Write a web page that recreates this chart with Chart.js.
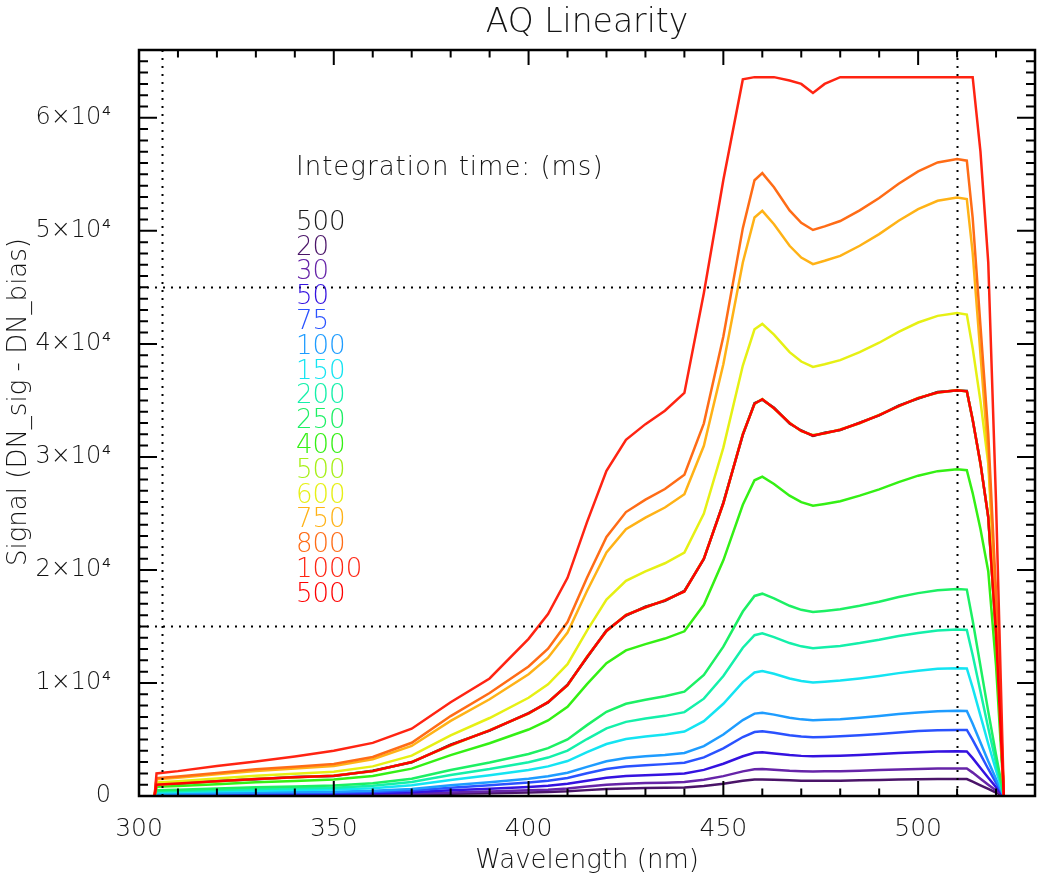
<!DOCTYPE html>
<html>
<head>
<meta charset="utf-8">
<title>AQ Linearity</title>
<script src="https://cdn.jsdelivr.net/npm/chart.js@4.4.1/dist/chart.umd.min.js"></script>
<style>
  html, body { margin: 0; padding: 0; background: #fff; }
  #wrap { width: 1039px; height: 881px; }
</style>
</head>
<body>
<div id="wrap"><canvas id="aq-chart" width="1039" height="881"></canvas></div>
<script>
// wavelength samples (nm), shared by every integration time
const wavelengths = [304, 304.5, 310, 320, 330, 340, 350, 360, 370, 380, 390, 400, 405, 410, 415, 420, 425, 430, 435, 440,
  445, 450, 455, 458, 460, 463, 467, 470, 473, 476, 480, 485, 490, 495, 500, 505, 510, 512.5, 514, 516, 518, 520, 522];

// signal (DN_sig - DN_bias) per integration time
const sig500a = [0, 1050, 1080, 1320, 1480, 1680, 1780, 2230, 2980, 4540, 5780, 7340, 8280, 9850, 12260, 14650, 15970, 16740, 17260, 18140,
  20960, 25950, 31950, 34750, 35060, 34350, 32960, 32340, 31860, 32140, 32370, 33040, 33670, 34540, 35170, 35740, 35870, 35830, 33260, 29450, 24660, 14350, 0];
const sig20 = [0, 40, 50, 60, 60, 70, 80, 90, 130, 190, 240, 310, 350, 410, 520, 610, 670, 700, 730, 760,
  880, 1090, 1340, 1460, 1470, 1440, 1390, 1360, 1340, 1350, 1360, 1390, 1420, 1450, 1480, 1500, 1510, 1500, 1280, 950, 620, 300, 0];
const sig30 = [0, 70, 80, 90, 100, 110, 120, 150, 200, 310, 390, 500, 560, 670, 840, 990, 1090, 1140, 1180, 1230,
  1430, 1760, 2180, 2360, 2390, 2330, 2240, 2200, 2170, 2180, 2200, 2240, 2290, 2350, 2390, 2430, 2440, 2430, 2070, 1530, 1000, 490, 0];
const sig50 = [0, 110, 120, 140, 170, 180, 200, 240, 330, 500, 640, 800, 910, 1080, 1350, 1610, 1760, 1840, 1900, 1990,
  2310, 2850, 3520, 3820, 3860, 3770, 3630, 3550, 3510, 3530, 3560, 3630, 3710, 3800, 3870, 3930, 3950, 3940, 3350, 2480, 1620, 790, 0];
const sig75 = [0, 160, 180, 210, 250, 270, 290, 360, 490, 730, 950, 1190, 1350, 1600, 2010, 2380, 2610, 2720, 2820, 2950,
  3420, 4220, 5220, 5660, 5720, 5590, 5380, 5270, 5200, 5230, 5280, 5380, 5490, 5620, 5740, 5820, 5850, 5840, 4960, 3680, 2390, 1170, 0];
const sig100 = [0, 210, 230, 270, 320, 350, 380, 460, 630, 950, 1220, 1530, 1740, 2060, 2580, 3070, 3360, 3510, 3630, 3800,
  4410, 5440, 6720, 7290, 7370, 7200, 6930, 6780, 6700, 6740, 6800, 6930, 7080, 7250, 7390, 7500, 7540, 7520, 6390, 4740, 3080, 1500, 0];
const sig150 = [0, 320, 350, 410, 470, 520, 570, 690, 950, 1420, 1830, 2300, 2620, 3090, 3880, 4600, 5040, 5260, 5450, 5700,
  6620, 8160, 10080, 10930, 11060, 10810, 10400, 10180, 10050, 10110, 10210, 10400, 10620, 10870, 11090, 11250, 11310, 11280, 9590, 7110, 4620, 2260, 0];
const sig200 = [0, 410, 450, 530, 620, 680, 740, 900, 1230, 1850, 2380, 2990, 3400, 4020, 5040, 5990, 6560, 6850, 7090, 7420,
  8610, 10620, 13120, 14230, 14390, 14060, 13530, 13240, 13080, 13160, 13280, 13530, 13820, 14150, 14430, 14640, 14720, 14680, 12480, 9250, 6020, 2940, 0];
const sig250 = [0, 510, 560, 660, 770, 840, 920, 1120, 1530, 2300, 2960, 3720, 4230, 5000, 6270, 7450, 8160, 8520, 8820, 9230,
  10710, 13210, 16320, 17700, 17900, 17490, 16830, 16470, 16270, 16370, 16520, 16830, 17190, 17600, 17950, 18210, 18310, 18260, 15520, 11500, 7490, 3650, 0];
const sig400 = [0, 810, 890, 1050, 1210, 1330, 1450, 1770, 2420, 3620, 4670, 5880, 6680, 7890, 9900, 11750, 12880, 13440, 13930, 14570,
  16910, 20850, 25760, 27930, 28260, 27610, 26570, 26000, 25680, 25840, 26080, 26570, 27130, 27770, 28340, 28740, 28900, 28820, 26800, 23630, 19890, 11530, 0];
const sig500b = [0, 980, 1120, 1290, 1520, 1630, 1820, 2180, 3020, 4470, 5820, 7280, 8320, 9780, 12330, 14580, 16030, 16680, 17330, 18080,
  21030, 25870, 32030, 34680, 35120, 34280, 33030, 32280, 31930, 32080, 32420, 32980, 33720, 34480, 35220, 35680, 35920, 35780, 33320, 29380, 24720, 14280, 0];
const sig600 = [0, 1190, 1310, 1550, 1790, 1960, 2140, 2620, 3570, 5360, 6900, 8690, 9880, 11660, 14640, 17370, 19040, 19870, 20590, 21540,
  24990, 30820, 38080, 41290, 41770, 40820, 39270, 38440, 37960, 38200, 38560, 39270, 40100, 41060, 41890, 42480, 42720, 42600, 39620, 34930, 29400, 17040, 0];
const sig750 = [0, 1480, 1620, 1920, 2210, 2430, 2660, 3250, 4430, 6640, 8560, 10770, 12240, 14460, 18140, 21540, 23600, 24630, 25520, 26700,
  30980, 38200, 47200, 51180, 51770, 50590, 48680, 47640, 47050, 47350, 47790, 48680, 49710, 50890, 51920, 52660, 52950, 52810, 48050, 39080, 30100, 16900, 0];
const sig800 = [0, 1570, 1730, 2040, 2360, 2590, 2830, 3450, 4710, 7070, 9110, 11460, 13030, 15390, 19310, 22920, 25120, 26220, 27160, 28420,
  32970, 40660, 50240, 54480, 55110, 53850, 51810, 50710, 50080, 50400, 50870, 51810, 52910, 54170, 55260, 56050, 56360, 56210, 51150, 41590, 32040, 17990, 0];
const sig1000 = [0, 2000, 2200, 2650, 3050, 3500, 4000, 4700, 5950, 8300, 10400, 13900, 16100, 19300, 24230, 28760, 31520, 32900, 34080, 35660,
  44500, 54500, 63400, 63600, 63600, 63600, 63300, 63000, 62200, 63000, 63600, 63600, 63600, 63600, 63600, 63600, 63600, 63600, 63600, 57000, 47200, 26000, 0];
const sig500c = [0, 1000, 1100, 1300, 1500, 1650, 1800, 2200, 3000, 4500, 5800, 7300, 8300, 9800, 12300, 14600, 16000, 16700, 17300, 18100,
  21000, 25900, 32000, 34700, 35100, 34300, 33000, 32300, 31900, 32100, 32400, 33000, 33700, 34500, 35200, 35700, 35900, 35800, 33300, 29400, 24700, 14300, 0];

// plotted in this order, the last one ends up on top
const seriesValues = [sig500a, sig20, sig30, sig50, sig75, sig100, sig150, sig200, sig250, sig400, sig500b, sig600, sig750, sig800, sig1000, sig500c];
const seriesLabels = ['500', '20', '30', '50', '75', '100', '150', '200', '250', '400', '500', '600', '750', '800', '1000', '500'];
const seriesColors = ['#1a1a1a', '#4a1468', '#6624a8', '#3412e0', '#2a52ff', '#1e9cff', '#14e4f2', '#14f0aa', '#1cf064',
  '#34f014', '#a6f016', '#e6f014', '#ffb216', '#ff6c16', '#ff2412', '#ff0000'];

const xTicks = [300, 350, 400, 450, 500];
const xTickLabels = ['300', '350', '400', '450', '500'];
const yTicks = [0, 10000, 20000, 30000, 40000, 50000, 60000];
const yTickLabels = ['0', '1×10⁴', '2×10⁴', '3×10⁴', '4×10⁴', '5×10⁴', '6×10⁴'];
const refWavelengths = [306, 510];
const refSignals = [15000, 45000];

const FONT = "'DejaVu Sans', sans-serif";
const WEIGHT = '200';
const INK = '#141414';

// IDL style box: ticks pointing inwards on all four sides, dotted guide lines
const idlFrame = {
    id: 'idlFrame',
    afterDatasetsDraw(chart) {
        const { ctx, chartArea: a, scales: { x, y } } = chart;
        ctx.save();
        ctx.strokeStyle = '#000';

        // dotted guides
        ctx.lineWidth = 2;
        ctx.setLineDash([2, 6]);
        refSignals.forEach(v => {
            const py = Math.round(y.getPixelForValue(v)) + 0.5;
            ctx.beginPath(); ctx.moveTo(a.left, py); ctx.lineTo(a.right, py); ctx.stroke();
        });
        refWavelengths.forEach(w => {
            const px = Math.round(x.getPixelForValue(w)) + 0.5;
            ctx.beginPath(); ctx.moveTo(px, a.top); ctx.lineTo(px, a.bottom); ctx.stroke();
        });
        ctx.setLineDash([]);

        // ticks
        ctx.lineWidth = 2;
        for (let w = x.min; w <= x.max; w += 10) {
            const px = x.getPixelForValue(w);
            const len = w % 50 === 0 ? 15 : 7.5;
            ctx.beginPath();
            ctx.moveTo(px, a.bottom); ctx.lineTo(px, a.bottom - len);
            ctx.moveTo(px, a.top); ctx.lineTo(px, a.top + len);
            ctx.stroke();
        }
        for (let v = y.min; v <= y.max; v += 1000) {
            const py = y.getPixelForValue(v);
            const len = v % 10000 === 0 ? 18 : 9;
            ctx.beginPath();
            ctx.moveTo(a.left, py); ctx.lineTo(a.left + len, py);
            ctx.moveTo(a.right, py); ctx.lineTo(a.right - len, py);
            ctx.stroke();
        }

        // box
        ctx.lineWidth = 2.5;
        ctx.strokeRect(a.left, a.top, a.right - a.left, a.bottom - a.top);
        ctx.restore();
    },
    afterDraw(chart) {
        const { ctx, chartArea: a, scales: { x } } = chart;
        ctx.save();
        ctx.fillStyle = INK;
        ctx.textBaseline = 'middle';
        ctx.textAlign = 'center';

        // x tick labels
        ctx.font = `${WEIGHT} 25px ${FONT}`;
        xTicks.forEach((w, i) => ctx.fillText(xTickLabels[i], x.getPixelForValue(w), 829));

        // title
        ctx.font = `${WEIGHT} 33px ${FONT}`;
        ctx.fillText('AQ Linearity', (a.left + a.right) / 2, 23);

        // axis titles
        ctx.font = `${WEIGHT} 26px ${FONT}`;
        ctx.fillText('Wavelength (nm)', (a.left + a.right) / 2, 861);
        ctx.save();
        ctx.translate(19, 402);
        ctx.rotate(-Math.PI / 2);
        ctx.fillText('Signal (DN_sig - DN_bias)', 0, 0);
        ctx.restore();

        // legend, written as plain coloured text
        ctx.textAlign = 'left';
        ctx.letterSpacing = '1px';
        ctx.fillText('Integration time: (ms)', 296, 168);
        ctx.letterSpacing = '0px';
        seriesLabels.forEach((label, i) => {
            ctx.fillStyle = seriesColors[i];
            ctx.fillText(label, 296, 223 + i * 24.8);
        });
        ctx.restore();
    }
};

function buildDatasets() {
    const n = seriesValues.length;
    return seriesValues.map((values, i) => ({
        label: seriesLabels[i],
        data: wavelengths.map((w, j) => ({ x: w, y: values[j] })),
        borderColor: seriesColors[i],
        borderWidth: 2.5,
        pointRadius: 0,
        tension: 0,
        fill: false,
        order: n - i
    }));
}

document.addEventListener('DOMContentLoaded', function() {
    const ctx = document.getElementById('aq-chart').getContext('2d');
    new Chart(ctx, {
        type: 'line',
        data: { datasets: buildDatasets() },
        options: {
            responsive: false,
            animation: false,
            layout: { padding: { top: 50, right: 4, left: 0, bottom: 0 } },
            plugins: {
                legend: { display: false },
                title: { display: false },
                tooltip: { enabled: false }
            },
            scales: {
                x: {
                    type: 'linear',
                    min: 300,
                    max: 530,
                    grid: { display: false },
                    border: { display: false },
                    afterFit: scale => { scale.height = 85; },
                    ticks: { display: false }
                },
                y: {
                    type: 'linear',
                    min: 0,
                    max: 66000,
                    grid: { display: false },
                    border: { display: false },
                    afterBuildTicks: scale => { scale.ticks = yTicks.map(v => ({ value: v })); },
                    afterFit: scale => { scale.width = 139; },
                    ticks: {
                        padding: 20,
                        color: INK,
                        font: { family: FONT, size: 24, weight: WEIGHT },
                        callback: value => yTickLabels[yTicks.indexOf(value)] ?? ''
                    }
                }
            }
        },
        plugins: [idlFrame]
    });
});
</script>
</body>
</html>
